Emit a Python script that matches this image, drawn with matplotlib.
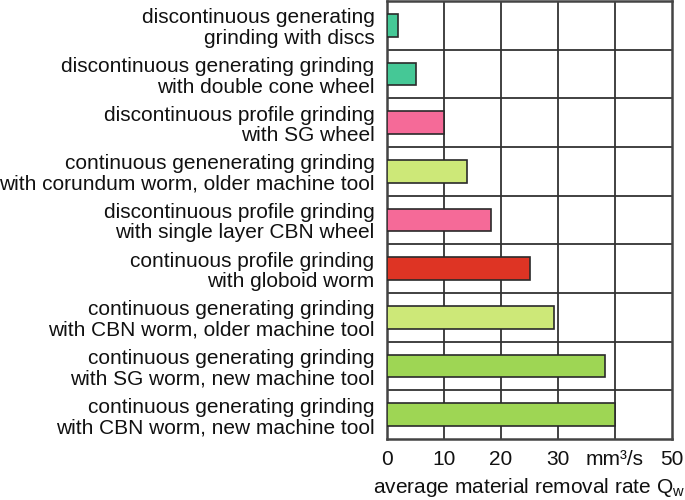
import matplotlib
matplotlib.use("Agg")
import matplotlib.pyplot as plt

plt.rcParams['font.family'] = ['Liberation Sans', 'DejaVu Sans']

categories = [
    "discontinuous generating\ngrinding with discs",
    "discontinuous generating grinding\nwith double cone wheel",
    "discontinuous profile grinding\nwith SG wheel",
    "continuous genenerating grinding\nwith corundum worm, older machine tool",
    "discontinuous profile grinding\nwith single layer CBN wheel",
    "continuous profile grinding\nwith globoid worm",
    "continuous generating grinding\nwith CBN worm, older machine tool",
    "continuous generating grinding\nwith SG worm, new machine tool",
    "continuous generating grinding\nwith CBN worm, new machine tool",
]
values = [2.0, 5.1, 10.0, 14.0, 18.2, 25.1, 29.3, 38.2, 40.0]
colors = ["#45C896", "#45C896", "#F56A98", "#CDE878", "#F56A98",
          "#DE3424", "#CDE878", "#9ED654", "#9ED654"]
xticks = [0, 10, 20, 30, 40, 50]
xticklabels = ["0", "10", "20", "30", "mm³/s", "50"]

fs = 15
fig = plt.figure(figsize=(6.85, 5.0), dpi=100)
ax = fig.add_axes([0.565, 0.122, 0.416, 0.876])

n = len(categories)
ypos = list(range(n))
ax.barh(ypos, values, height=0.47, color=colors, edgecolor="#2a2a2a",
        linewidth=1.2, zorder=3)

ax.set_xlim(0, 50)
ax.set_ylim(n - 0.5, -0.5)
ax.set_xticks(xticks)
ax.set_xticklabels(xticklabels, fontsize=fs, color="#111111")
ax.set_yticks(ypos)
ax.set_yticklabels(categories, fontsize=fs, color="#111111",
                   multialignment="right", linespacing=1.1)
ax.tick_params(axis="y", length=0, pad=9)
ax.tick_params(axis="x", length=0, pad=8)

for x in xticks[1:-1]:
    ax.axvline(x, color="#333333", linewidth=1.3, zorder=1)
for i in range(n - 1):
    ax.axhline(i + 0.5, color="#333333", linewidth=1.3, zorder=1)
for s in ax.spines.values():
    s.set_color("#444444")
    s.set_linewidth(1.8)

ax.set_xlabel("average material removal rate Q$_\\mathregular{w}$", fontsize=fs,
              color="#111111", labelpad=5)

fig.savefig("out.png", dpi=100)
